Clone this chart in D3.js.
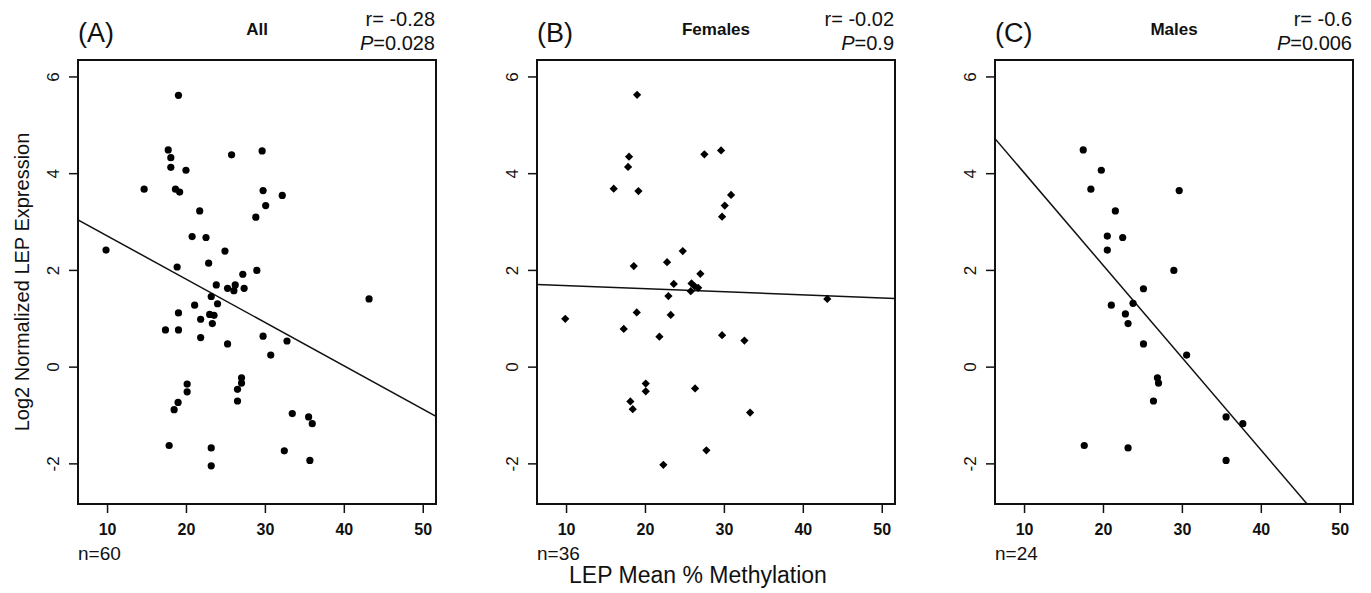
<!DOCTYPE html>
<html>
<head>
<meta charset="utf-8">
<script src="https://cdn.jsdelivr.net/npm/d3@7"></script>
<style>
    body { margin: 0; background: #fff; }
    text { font-family: "Liberation Sans", Arial, sans-serif; fill: #111; }
</style>
</head>
<body>
<div id="chart"></div>
<script>
// Panel A: all subjects
const allX = [19.05, 17.75, 18.08, 18.08, 20.0, 14.7, 18.67, 19.2, 21.74, 20.78, 22.54, 9.87, 24.94, 22.87, 18.88, 28.98, 27.2,
    25.78, 29.65, 29.77, 32.2, 30.1, 28.85, 23.84, 25.27, 26.24, 26.07, 27.37, 43.2, 23.2,
    24.0, 21.1, 19.05, 23.0, 23.55, 21.86, 23.34, 17.4, 19.05, 21.86, 29.77, 25.27, 32.8, 30.74,
    20.15, 20.15, 27.04, 27.04, 26.53, 26.53, 19.0, 18.5, 33.47, 35.54, 36.0, 17.87, 23.2, 32.46, 35.7, 23.2];
const allY = [5.61, 4.48, 4.32, 4.12, 4.06, 3.67, 3.67, 3.61, 3.22, 2.69, 2.67, 2.41, 2.39, 2.14, 2.06, 1.99, 1.91,
    4.38, 4.46, 3.64, 3.54, 3.33, 3.09, 1.69, 1.62, 1.69, 1.57, 1.62, 1.40, 1.45,
    1.30, 1.27, 1.11, 1.08, 1.06, 0.98, 0.89, 0.76, 0.76, 0.60, 0.63, 0.47, 0.53, 0.24,
    -0.36, -0.52, -0.23, -0.34, -0.47, -0.71, -0.74, -0.89, -0.97, -1.04, -1.18, -1.63, -1.68, -1.74, -1.94, -2.05];

// Panel B: females
const femaleX = [19.0, 17.98, 17.86, 16.04, 19.17, 27.53, 29.64, 30.91, 30.11, 29.77, 24.79, 22.8, 18.58, 27.02, 23.65,
    25.9, 26.3, 26.74, 25.8, 43.1, 22.97, 9.9, 17.31, 18.96, 23.27, 21.83, 29.77, 32.6,
    20.1, 20.1, 18.15, 18.45, 26.35, 33.32, 27.78, 22.33];
const femaleY = [5.62, 4.34, 4.13, 3.68, 3.63, 4.39, 4.47, 3.55, 3.33, 3.10, 2.39, 2.16, 2.08, 1.92, 1.71,
    1.72, 1.66, 1.63, 1.56, 1.40, 1.46, 0.99, 0.78, 1.12, 1.07, 0.62, 0.65, 0.54,
    -0.35, -0.51, -0.72, -0.88, -0.45, -0.95, -1.73, -2.03];

// Panel C: males
const maleX = [17.5, 19.79, 18.47, 29.66, 21.57, 20.55, 22.5, 20.55, 28.98, 25.13, 21.06, 23.81, 22.84, 23.18,
    25.13, 30.6, 26.9, 27.04, 26.4, 35.6, 37.72, 17.63, 23.18, 35.6];
const maleY = [4.48, 4.06, 3.67, 3.64, 3.22, 2.70, 2.67, 2.41, 1.99, 1.61, 1.27, 1.31, 1.09, 0.89,
    0.47, 0.24, -0.23, -0.34, -0.71, -1.04, -1.18, -1.63, -1.68, -1.94];

const panelLetters = ['(A)', '(B)', '(C)'];
const panelTitles = ['All', 'Females', 'Males'];
const rValues = ['-0.28', '-0.02', '-0.6'];
const pValues = ['0.028', '0.9', '0.006'];
const nCounts = [60, 36, 24];
const fitIntercepts = [3.60, 1.74, 5.92];
const fitSlopes = [-0.0895, -0.0064, -0.191];
const markerShapes = ['circle', 'diamond', 'circle'];

const xTicks = [10, 20, 30, 40, 50];
const yTicks = [-2, 0, 2, 4, 6];

const width = 1371;
const height = 593;
const plotTop = 60;
const plotBottom = 504;
const plotWidth = 358;
const panelLefts = [78, 537, 995];

const seriesX = [allX, femaleX, maleX];
const seriesY = [allY, femaleY, maleY];

const svg = d3.select('#chart').append('svg')
    .attr('width', width)
    .attr('height', height);

const yScale = d3.scaleLinear()
    .domain([-2.84, 6.34])
    .range([plotBottom, plotTop]);

panelLetters.forEach((letter, i) => {
    const left = panelLefts[i];
    const xScale = d3.scaleLinear()
        .domain([6.32, 51.68])
        .range([left, left + plotWidth]);

    const g = svg.append('g').attr('class', 'panel');

    g.append('clipPath')
        .attr('id', `clip-${i}`)
        .append('rect')
        .attr('x', left)
        .attr('y', plotTop)
        .attr('width', plotWidth)
        .attr('height', plotBottom - plotTop);

    // x axis
    const xAxis = g.append('g')
        .attr('transform', `translate(0,${plotBottom})`)
        .call(d3.axisBottom(xScale).tickValues(xTicks).tickSize(9).tickFormat(d => String(d)));
    xAxis.select('.domain').remove();
    xAxis.selectAll('line').attr('stroke', '#111').attr('stroke-width', 1.5);
    xAxis.selectAll('text')
        .attr('y', 31)
        .attr('dy', 0)
        .style('font-size', '16px')
        .style('font-weight', 'bold')
        .attr('fill', '#111');

    // y axis with rotated labels
    const yAxis = g.append('g')
        .attr('transform', `translate(${left},0)`)
        .call(d3.axisLeft(yScale).tickValues(yTicks).tickSize(9).tickFormat(d => String(d)));
    yAxis.select('.domain').remove();
    yAxis.selectAll('line').attr('stroke', '#111').attr('stroke-width', 1.5);
    yAxis.selectAll('text')
        .attr('x', 0)
        .attr('dy', 0)
        .attr('transform', 'translate(-19,0) rotate(-90)')
        .attr('text-anchor', 'middle')
        .style('font-size', '17px')
        .attr('fill', '#111');

    // regression line
    const fit = xScale.domain().map(x => [x, fitIntercepts[i] + fitSlopes[i] * x]);
    g.append('path')
        .attr('clip-path', `url(#clip-${i})`)
        .attr('d', d3.line().x(d => xScale(d[0])).y(d => yScale(d[1]))(fit))
        .attr('fill', 'none')
        .attr('stroke', '#111')
        .attr('stroke-width', 1.5);

    const points = seriesX[i].map((x, j) => ({ x: x, y: seriesY[i][j] }));

    if (markerShapes[i] === 'diamond') {
        g.selectAll('.pt')
            .data(points)
            .join('path')
            .attr('class', 'pt')
            .attr('d', d3.symbol().type(d3.symbolSquare).size(34))
            .attr('transform', d => `translate(${xScale(d.x)},${yScale(d.y)}) rotate(45)`)
            .attr('fill', '#000');
    } else {
        g.selectAll('.pt')
            .data(points)
            .join('circle')
            .attr('class', 'pt')
            .attr('cx', d => xScale(d.x))
            .attr('cy', d => yScale(d.y))
            .attr('r', 3.6)
            .attr('fill', '#000');
    }

    // frame
    g.append('rect')
        .attr('x', left)
        .attr('y', plotTop)
        .attr('width', plotWidth)
        .attr('height', plotBottom - plotTop)
        .attr('fill', 'none')
        .attr('stroke', '#111')
        .attr('stroke-width', 2);

    g.append('text')
        .attr('x', left)
        .attr('y', 42)
        .attr('font-size', '27px')
        .text(letter);

    g.append('text')
        .attr('x', left + plotWidth / 2)
        .attr('y', 35)
        .attr('text-anchor', 'middle')
        .attr('font-size', '17px')
        .attr('font-weight', 'bold')
        .text(panelTitles[i]);

    g.append('text')
        .attr('x', left + plotWidth - 1)
        .attr('y', 26)
        .attr('text-anchor', 'end')
        .attr('font-size', '20px')
        .text(`r= ${rValues[i]}`);

    const pText = g.append('text')
        .attr('x', left + plotWidth - 1)
        .attr('y', 50)
        .attr('text-anchor', 'end')
        .attr('font-size', '20px');
    pText.append('tspan').attr('font-style', 'italic').text('P');
    pText.append('tspan').text(`=${pValues[i]}`);

    g.append('text')
        .attr('x', left)
        .attr('y', 560)
        .attr('font-size', '19px')
        .text(`n=${nCounts[i]}`);
});

svg.append('text')
    .attr('transform', `translate(29,${(plotTop + plotBottom) / 2}) rotate(-90)`)
    .attr('text-anchor', 'middle')
    .attr('font-size', '20px')
    .text('Log2 Normalized LEP Expression');

svg.append('text')
    .attr('x', 698)
    .attr('y', 583)
    .attr('text-anchor', 'middle')
    .attr('font-size', '23px')
    .text('LEP Mean % Methylation');
</script>
</body>
</html>
